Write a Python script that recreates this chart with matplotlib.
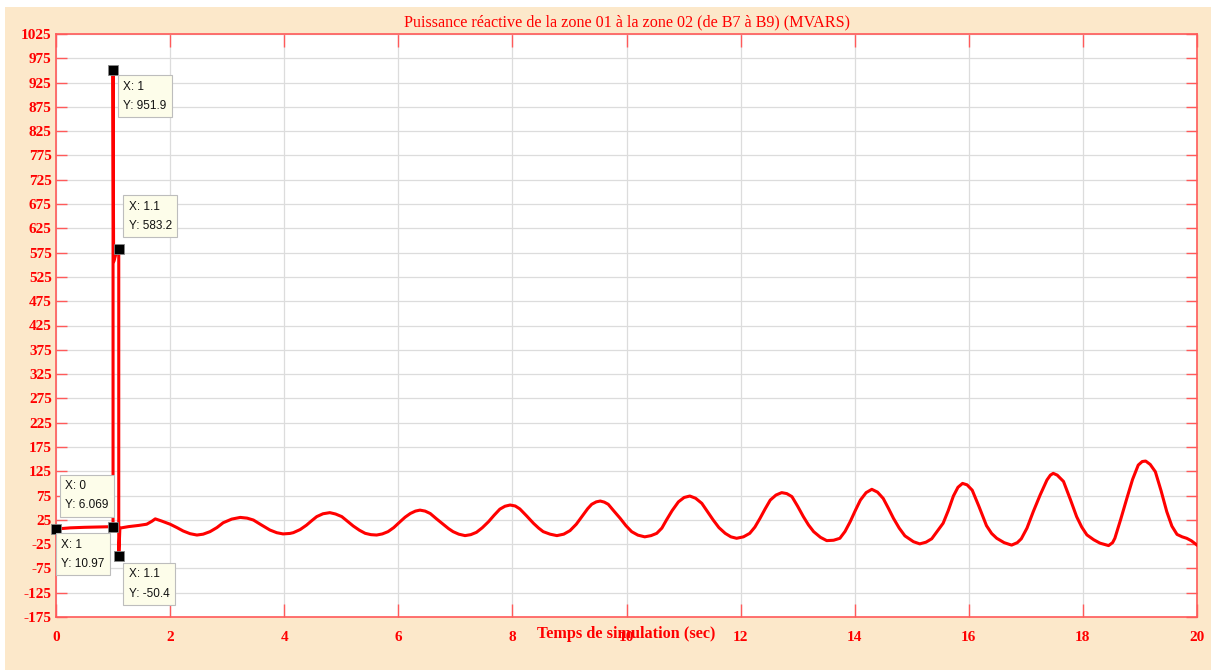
import matplotlib
matplotlib.use("Agg")
import matplotlib.pyplot as plt
from matplotlib.patches import Rectangle

plt.rcParams["axes.unicode_minus"] = False

# Reactive power flow, zone 01 -> zone 02 (bus B7 to B9), MVARS
time_s = [
    0.00, 0.25, 0.50, 0.75, 1.00, 1.00, 1.01, 1.05, 1.10, 1.10,
    1.12, 1.27, 1.45, 1.59, 1.68, 1.74, 1.85, 2.00, 2.12, 2.23,
    2.35, 2.47, 2.58, 2.70, 2.82, 2.93, 3.08, 3.23, 3.35, 3.46,
    3.60, 3.75, 3.87, 3.98, 4.10, 4.16, 4.28, 4.39, 4.48, 4.57,
    4.68, 4.80, 4.90, 5.01, 5.11, 5.21, 5.32, 5.42, 5.52, 5.62,
    5.72, 5.82, 5.92, 6.03, 6.12, 6.21, 6.30, 6.38, 6.47, 6.56,
    6.67, 6.79, 6.88, 6.96, 7.06, 7.17, 7.27, 7.37, 7.47, 7.58,
    7.68, 7.78, 7.87, 7.96, 8.05, 8.13, 8.25, 8.37, 8.46, 8.54,
    8.66, 8.78, 8.90, 9.01, 9.12, 9.24, 9.32, 9.39, 9.47, 9.54,
    9.61, 9.68, 9.78, 9.89, 9.99, 10.09, 10.20, 10.32, 10.43, 10.53,
    10.62, 10.70, 10.80, 10.91, 11.01, 11.11, 11.21, 11.32, 11.42, 11.52,
    11.62, 11.73, 11.83, 11.93, 12.05, 12.16, 12.25, 12.34, 12.43, 12.52,
    12.62, 12.72, 12.81, 12.90, 13.00, 13.10, 13.19, 13.28, 13.40, 13.51,
    13.63, 13.74, 13.83, 13.92, 14.01, 14.10, 14.20, 14.30, 14.40, 14.50,
    14.59, 14.68, 14.78, 14.88, 15.03, 15.14, 15.25, 15.35, 15.45, 15.55,
    15.64, 15.73, 15.81, 15.89, 15.97, 16.06, 16.18, 16.31, 16.40, 16.49,
    16.62, 16.75, 16.85, 16.92, 17.02, 17.13, 17.25, 17.37, 17.43, 17.48,
    17.55, 17.66, 17.78, 17.89, 17.98, 18.07, 18.19, 18.30, 18.45, 18.52,
    18.56, 18.66, 18.77, 18.87, 18.97, 19.04, 19.10, 19.18, 19.27, 19.37,
    19.47, 19.56, 19.65, 19.74, 19.82, 19.90, 20.00,
]
q_mvars = [
    6.069, 8.5, 9.6, 10.3, 10.97, 951.9, 556, 572, 583.2, -50.4,
    8, 11, 13.5, 16, 22, 27, 22.6, 16, 9, 2,
    -3.5, -6.3, -4.5, 0.7, 9, 19, 26.5, 30, 28.5, 24.6,
    14.5, 4, -1.5, -4, -3, -1.4, 5, 14, 23, 31.6,
    37.5, 39.8, 37, 31.6, 22, 12.3, 3.5, -2.8, -5.5, -6.3,
    -4, 0.7, 9, 21, 30.5, 38, 43, 45, 43, 38,
    27, 15.7, 7, 0.7, -4.5, -7.5, -5.5, -0.7, 8.5, 21,
    34.5, 47, 53, 55.5, 53.5, 47.5, 33, 17.8, 8, 0.7,
    -4.5, -7.5, -4.5, 2.8, 16, 35, 48, 57, 62, 63.7,
    61.5, 57, 43, 28, 13, 0.7, -6.5, -10, -7.5, -2.8,
    8, 24.6, 44, 62, 71, 74, 69.5, 59, 42, 24.6,
    9, -2.8, -10, -13, -10, -2.8, 10, 28, 47.5, 65.7,
    76, 81, 79, 72.7, 53, 31.6, 14.5, 0.7, -11, -17.8,
    -17, -13, 1, 21, 44, 65.7, 81, 87.8, 82, 69,
    49, 28, 8, -8, -20, -24.5, -21, -14, 2, 18,
    44, 74, 92, 100, 97, 86, 52, 13, -3, -13,
    -22, -27, -22, -14, 8, 41.9, 76, 107, 117, 120.7,
    117, 104, 67, 31.6, 10, -6, -16, -23, -28, -22,
    -13, 25, 69, 108, 137.7, 145, 146, 139, 124, 85,
    41.9, 12, -5, -10, -13, -18, -27,
]

# Data cursors: (x, y) and the label box offset in pixels
tip_x = [1.0, 1.1, 0.0, 1.0, 1.1]
tip_y = [951.9, 583.2, 6.069, 10.97, -50.4]
tip_labels = ["X: 1\nY: 951.9", "X: 1.1\nY: 583.2", "X: 0\nY: 6.069",
              "X: 1\nY: 10.97", "X: 1.1\nY: -50.4"]
tip_offsets = [(10, -11), (10, 48), (9, 49), (-52, -12), (10, -12)]

x_ticks = list(range(0, 21, 2))
y_ticks = list(range(-175, 1026, 50))

title_text = "Puissance réactive de la zone 01 à la zone 02 (de B7 à B9) (MVARS)"
xlabel_text = "Temps de simulation (sec)"

RED = "#ff0000"
AXRED = "#ff5a5a"
PEACH = "#fce8ca"
SERIF = ["Liberation Serif", "DejaVu Serif"]
SANS = ["Liberation Sans", "DejaVu Sans"]

fig = plt.figure(figsize=(12.11, 6.70), dpi=100, facecolor="white")
W, H = 1211, 670
fig.patches.append(Rectangle((5 / W, 0), 1 - 5 / W, 1 - 7 / H,
                             transform=fig.transFigure, facecolor=PEACH,
                             edgecolor="none", zorder=-10))

ax = fig.add_axes([56 / W, 1 - 617 / H, 1141 / W, 583 / H])
ax.set_facecolor("white")

ax.plot(time_s, q_mvars, color=RED, lw=2.2, zorder=3, solid_joinstyle="round")

ax.set_xlim(0, 20)
ax.set_ylim(-175, 1025)
ax.set_xticks(x_ticks)
ax.set_yticks(y_ticks)
ax.grid(True, color="#dcdcdc", lw=0.9, zorder=0)
ax.set_axisbelow(True)

for sp in ax.spines.values():
    sp.set_color(AXRED)
    sp.set_linewidth(1.2)

ax.tick_params(axis="both", direction="in", colors=AXRED, width=1.0,
               labelcolor=RED, top=True, right=True)
ax.tick_params(axis="x", length=9.4, pad=10)
ax.tick_params(axis="y", length=7.7, pad=3)
for lab in ax.get_xticklabels() + ax.get_yticklabels():
    lab.set_fontfamily(SERIF)
    lab.set_fontweight("bold")
    lab.set_fontsize(11)

ax.set_title(title_text, color=RED, fontfamily=SERIF, fontsize=11.6, pad=5.3)
ax.set_xlabel(xlabel_text, color=RED, fontfamily=SERIF, fontsize=11.7,
              fontweight="bold")
ax.xaxis.set_label_coords(0.5, -0.015)

# data cursor markers and labels
ax.plot(tip_x, tip_y, linestyle="none", marker="s", markersize=6.5,
        markerfacecolor="black", markeredgecolor="#888888",
        markeredgewidth=0.6, zorder=5, clip_on=False)
for x, y, txt, (dx, dy) in zip(tip_x, tip_y, tip_labels, tip_offsets):
    ax.annotate(txt, xy=(x, y), xytext=(dx, dy), textcoords="offset pixels",
                ha="left", va="top", fontsize=8.5, fontfamily=SANS,
                color="#111111", linespacing=1.8, zorder=6,
                bbox=dict(boxstyle="square,pad=0.45", facecolor="#fdfdea",
                          edgecolor="#bdbdbd", lw=0.8))

fig.savefig("out.png", dpi=100, facecolor=fig.get_facecolor())
